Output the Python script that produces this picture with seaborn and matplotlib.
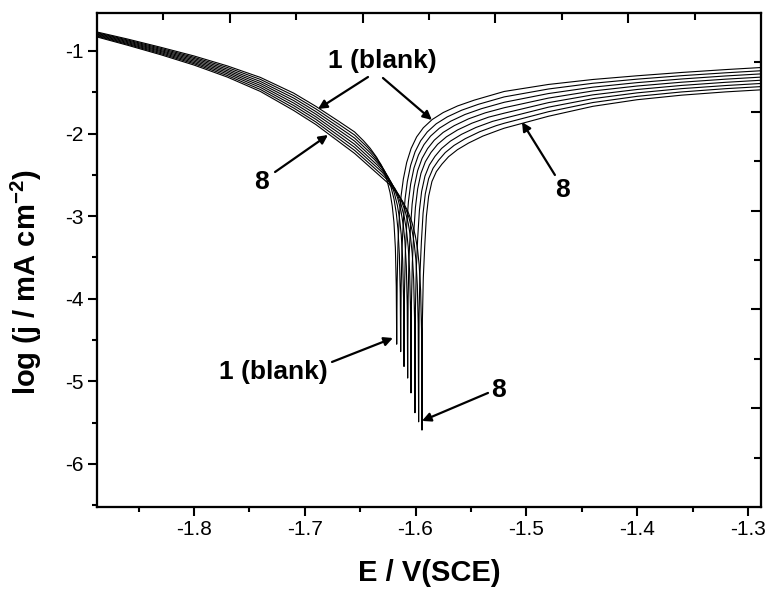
import numpy as np
import pandas as pd
import matplotlib
matplotlib.use("Agg")
import matplotlib.pyplot as plt
from matplotlib.ticker import MultipleLocator, FixedLocator
import seaborn as sns

# ---------------- data ----------------
CURVES = ["1 (blank)", "2", "3", "4", "5", "6", "7", "8"]
# corrosion potential (V vs SCE) and log j at the bottom of each spike
ECORR = [-1.6170, -1.6134, -1.6104, -1.6071, -1.6041, -1.6005, -1.5972, -1.5942]
LOGJ_MIN = [-4.55, -4.64, -4.82, -4.96, -5.14, -5.38, -5.49, -5.59]

# cathodic branch, common potentials
E_CATH = [-1.8875, -1.86, -1.83, -1.80, -1.77, -1.74, -1.71, -1.69, -1.67, -1.655]
LOGJ_CATH = [
    [-0.770, -0.855, -0.955, -1.060, -1.180, -1.320, -1.510, -1.670, -1.845, -1.980],
    [-0.779, -0.866, -0.968, -1.076, -1.199, -1.344, -1.540, -1.701, -1.880, -2.017],
    [-0.787, -0.876, -0.981, -1.091, -1.219, -1.369, -1.570, -1.733, -1.915, -2.054],
    [-0.796, -0.887, -0.994, -1.107, -1.238, -1.393, -1.600, -1.764, -1.950, -2.091],
    [-0.804, -0.898, -1.006, -1.123, -1.257, -1.417, -1.630, -1.796, -1.985, -2.129],
    [-0.813, -0.909, -1.019, -1.139, -1.276, -1.441, -1.660, -1.827, -2.020, -2.166],
    [-0.821, -0.919, -1.032, -1.154, -1.296, -1.466, -1.690, -1.859, -2.055, -2.203],
    [-0.830, -0.930, -1.045, -1.170, -1.315, -1.490, -1.720, -1.890, -2.090, -2.240],
]
# cathodic side close to Ecorr (offsets from Ecorr, V)
DE_CATH_NEAR = [-0.030, -0.024, -0.018, -0.013, -0.009, -0.006, -0.004, -0.0025, -0.0012, -0.0004]
LOGJ_CATH_NEAR = [
    [-2.086, -2.177, -2.289, -2.412, -2.554, -2.715, -2.879, -3.073, -3.383, -3.853],
    [-2.166, -2.257, -2.369, -2.492, -2.634, -2.795, -2.959, -3.153, -3.463, -3.933],
    [-2.239, -2.330, -2.442, -2.565, -2.707, -2.868, -3.032, -3.226, -3.536, -4.006],
    [-2.313, -2.404, -2.516, -2.639, -2.781, -2.942, -3.106, -3.300, -3.610, -4.080],
    [-2.386, -2.477, -2.589, -2.712, -2.854, -3.015, -3.179, -3.373, -3.683, -4.153],
    [-2.463, -2.554, -2.666, -2.789, -2.931, -3.092, -3.256, -3.450, -3.760, -4.230],
    [-2.537, -2.628, -2.740, -2.863, -3.005, -3.166, -3.330, -3.524, -3.834, -4.304],
    [-2.607, -2.698, -2.810, -2.933, -3.075, -3.236, -3.400, -3.594, -3.904, -4.374],
]
# anodic side close to Ecorr (offsets from Ecorr, V)
DE_AN_NEAR = [0.0004, 0.0012, 0.0025, 0.004, 0.006, 0.009, 0.013, 0.018, 0.024, 0.032, 0.042, 0.055, 0.070]
LOGJ_AN_NEAR = [
    [-3.800, -3.320, -2.980, -2.750, -2.550, -2.350, -2.180, -2.040, -1.930, -1.830, -1.745, -1.665, -1.595],
    [-3.864, -3.381, -3.034, -2.786, -2.580, -2.383, -2.220, -2.087, -1.980, -1.882, -1.798, -1.717, -1.646],
    [-3.929, -3.443, -3.089, -2.821, -2.610, -2.416, -2.260, -2.134, -2.030, -1.934, -1.851, -1.769, -1.698],
    [-3.993, -3.504, -3.143, -2.857, -2.640, -2.449, -2.300, -2.181, -2.080, -1.986, -1.904, -1.821, -1.749],
    [-4.057, -3.566, -3.197, -2.893, -2.670, -2.481, -2.340, -2.229, -2.130, -2.039, -1.956, -1.874, -1.801],
    [-4.121, -3.627, -3.251, -2.929, -2.700, -2.514, -2.380, -2.276, -2.180, -2.091, -2.009, -1.926, -1.852],
    [-4.186, -3.689, -3.306, -2.964, -2.730, -2.547, -2.420, -2.323, -2.230, -2.143, -2.062, -1.978, -1.904],
    [-4.250, -3.750, -3.360, -3.000, -2.760, -2.580, -2.460, -2.370, -2.280, -2.195, -2.115, -2.030, -1.955],
]
# anodic branch, common potentials
E_AN = [-1.52, -1.48, -1.44, -1.40, -1.36, -1.32, -1.288]
LOGJ_AN = [
    [-1.490, -1.405, -1.345, -1.300, -1.260, -1.225, -1.200],
    [-1.556, -1.460, -1.391, -1.341, -1.299, -1.264, -1.239],
    [-1.621, -1.515, -1.438, -1.383, -1.339, -1.302, -1.277],
    [-1.687, -1.570, -1.484, -1.424, -1.378, -1.341, -1.316],
    [-1.753, -1.625, -1.531, -1.466, -1.417, -1.379, -1.354],
    [-1.815, -1.680, -1.577, -1.507, -1.456, -1.418, -1.393],
    [-1.875, -1.735, -1.624, -1.549, -1.496, -1.456, -1.431],
    [-1.935, -1.790, -1.670, -1.590, -1.535, -1.495, -1.470],
]

# ---------------- assemble long table ----------------
rows = []
for k, name in enumerate(CURVES):
    ec = ECORR[k]
    E = list(E_CATH) + [ec + d for d in DE_CATH_NEAR] + [ec] + \
        [ec + d for d in DE_AN_NEAR] + list(E_AN)
    L = list(LOGJ_CATH[k]) + list(LOGJ_CATH_NEAR[k]) + [LOGJ_MIN[k]] + \
        list(LOGJ_AN_NEAR[k]) + list(LOGJ_AN[k])
    for i, (e, l) in enumerate(zip(E, L)):
        rows.append({"curve": name, "order": i, "E": e, "logj": l})
df = pd.DataFrame(rows)

# ---------------- plot ----------------
sns.set_theme(style="ticks")
plt.rcParams["font.family"] = ["Liberation Sans", "DejaVu Sans"]
plt.rcParams["axes.unicode_minus"] = False
plt.rcParams["mathtext.fontset"] = "custom"
plt.rcParams["mathtext.rm"] = "Liberation Sans"
plt.rcParams["mathtext.bf"] = "Liberation Sans:bold"
for key in ("text.color", "axes.labelcolor", "xtick.color", "ytick.color", "axes.edgecolor"):
    plt.rcParams[key] = "black"

W, H = 770, 594
fig = plt.figure(figsize=(W / 100, H / 100), dpi=100)
ax = fig.add_axes([97 / W, 1 - 507 / H, 664 / W, 494 / H])

sns.lineplot(data=df, x="E", y="logj", hue="curve", sort=False, estimator=None,
             palette=["black"] * len(CURVES), legend=False, lw=0.8, ax=ax)

ax.set_xlim(-1.8875, -1.2882)
ax.set_ylim(-6.521, -0.540)
ax.xaxis.set_major_locator(MultipleLocator(0.1))
ax.xaxis.set_minor_locator(MultipleLocator(0.05))
ax.yaxis.set_major_locator(MultipleLocator(1))
ax.yaxis.set_minor_locator(MultipleLocator(0.5))
ax.tick_params(which="both", direction="out", width=1.5, colors="black",
               labelsize=15, top=False, right=False, pad=3)
ax.tick_params(which="major", length=6.5)
ax.tick_params(which="minor", length=3.6)
for s in ax.spines.values():
    s.set_linewidth(1.5)
    s.set_color("black")

ax.set_xlabel("E / V(SCE)", fontsize=21, fontweight="bold", labelpad=14)
ax.set_ylabel(r"log (j / mA cm$^{\mathbf{-2}}$)", fontsize=21, fontweight="bold")
ax.yaxis.set_label_coords(-0.08, 0.455)

# independent inward ticks on top and right edges
axt = ax.twiny()
axt.set_xlim(0, 1)
axt.xaxis.set_major_locator(FixedLocator([0.2, 0.4, 0.6, 0.8]))
axt.xaxis.set_minor_locator(FixedLocator([0.1, 0.3, 0.5, 0.7, 0.9]))
axt.tick_params(which="both", direction="in", width=1.5, top=True, bottom=False,
                labeltop=False, labelbottom=False, colors="black")
axt.tick_params(which="major", length=7.5)
axt.tick_params(which="minor", length=5)
axr = ax.twinx()
axr.set_ylim(0, 1)
axr.yaxis.set_major_locator(FixedLocator([0.2, 0.4, 0.6, 0.8]))
axr.yaxis.set_minor_locator(FixedLocator([0.1, 0.3, 0.5, 0.7, 0.9]))
axr.tick_params(which="both", direction="in", width=1.5, right=True, left=False,
                labelright=False, labelleft=False, colors="black")
axr.tick_params(which="major", length=7.5)
axr.tick_params(which="minor", length=5)
for a in (axt, axr):
    for s in a.spines.values():
        s.set_linewidth(1.5)
        s.set_color("black")

# annotations
ap = dict(arrowstyle="-|>", lw=1.6, color="black", mutation_scale=13,
          shrinkA=0, shrinkB=0)
tk = dict(fontsize=19, fontweight="bold", ha="center", va="center", color="black")
ax.text(-1.6303, -1.121, "1 (blank)", **tk)
ax.annotate("", xy=(-1.6880, -1.702), xytext=(-1.6429, -1.315), arrowprops=ap)
ax.annotate("", xy=(-1.5852, -1.835), xytext=(-1.6294, -1.327), arrowprops=ap)
ax.text(-1.7386, -2.586, "8", **tk)
ax.annotate("", xy=(-1.6790, -2.017), xytext=(-1.7268, -2.465), arrowprops=ap)
ax.text(-1.4678, -2.683, "8", **tk)
ax.annotate("", xy=(-1.5039, -1.860), xytext=(-1.4742, -2.501), arrowprops=ap)
ax.text(-1.7287, -4.886, "1 (blank)", **tk)
ax.annotate("", xy=(-1.6204, -4.475), xytext=(-1.6754, -4.765), arrowprops=ap)
ax.text(-1.5247, -5.104, "8", **tk)
ax.annotate("", xy=(-1.5942, -5.479), xytext=(-1.5346, -5.140), arrowprops=ap)

fig.savefig("out.png", dpi=100)
